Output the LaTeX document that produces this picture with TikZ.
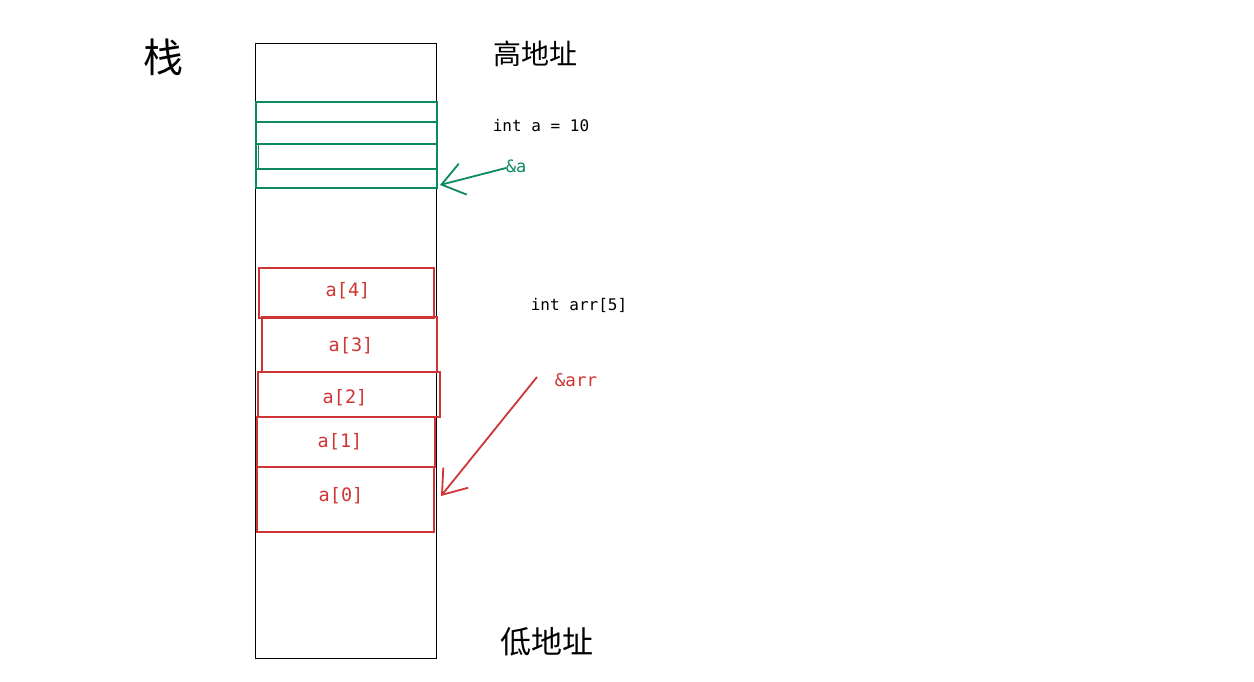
\documentclass[tikz,border=0pt]{standalone}
\usepackage{fontspec}
\setmainfont{Liberation Sans}
\setmonofont{DejaVu Sans Mono}
\newfontfamily\cjk{Noto Sans CJK SC}
\usetikzlibrary{arrows.meta}
\definecolor{grn}{HTML}{0C8A5E}
\definecolor{rd}{HTML}{D03535}
\tikzset{
  cell/.style={draw=rd, line width=1.6pt, minimum width=0pt, inner sep=0pt},
  gline/.style={draw=grn, line width=2.2pt},
  lbl/.style={font=\ttfamily\fontsize{16}{19}\selectfont, inner sep=0pt},
  rlbl/.style={font=\ttfamily\fontsize{18.5}{22}\selectfont, inner sep=0pt, text=rd},
  cjklbl/.style={inner sep=0pt},
  ptr/.style={line width=1.8pt, -{Straight Barb[length=22pt,width=32pt,line width=1.8pt]}},
}
\begin{document}
\begin{tikzpicture}[x=1pt,y=-1pt]
\useasboundingbox[fill=white] (0,0) rectangle (1254,682);
% stack frame
\node[draw=black, line width=1pt, minimum width=181pt, minimum height=615pt, inner sep=0pt, anchor=north west] (stack) at (255,43) {};
\node[cjklbl, font=\cjk\fontsize{40}{44}\selectfont] (zhan) at (163,57) {栈};
\node[cjklbl, font=\cjk\fontsize{28}{32}\selectfont] (hi) at (535,54) {高地址};
\node[cjklbl, font=\cjk\fontsize{31}{35}\selectfont] (lo) at (547,642) {低地址};
% green int a
\node[gline, minimum width=181pt, minimum height=86pt, inner sep=0pt, anchor=north west] (avar) at (255,101) {};
\coordinate (g1l) at (255,122); \coordinate (g1r) at (436,122);
\coordinate (g2l) at (256,144); \coordinate (g2r) at (436,144);
\coordinate (g3l) at (255,169); \coordinate (g3r) at (436,169);
\draw[gline] (g1l) -- (g1r);
\draw[gline] (g2l) -- (g2r);
\draw[gline] (g3l) -- (g3r);
\draw[draw=grn, line width=1pt] (258,144) -- (258,169);
\node[lbl] (inta) at (541,126) {int a = 10};
\node[font=\ttfamily\fontsize{17}{20}\selectfont, inner sep=0pt, text=grn] (amp) at (516,166) {\&a};
\coordinate (gs) at (506,168);
\coordinate (ge) at (440,185);
\draw[ptr, draw=grn] (gs) -- (ge);
% red array
\node[cell, minimum width=175pt, minimum height=50pt, anchor=north west] (a4) at (258,267) {};
\node[cell, minimum width=175pt, minimum height=55pt, anchor=north west] (a3) at (261,316) {};
\node[cell, minimum width=182pt, minimum height=45pt, anchor=north west] (a2) at (257,371) {};
\node[cell, minimum width=178pt, minimum height=50pt, anchor=north west] (a1) at (256,416) {};
\node[cell, minimum width=177pt, minimum height=65pt, anchor=north west] (a0) at (256,466) {};
\node[rlbl] at (348,291) {a[4]};
\node[rlbl] at (351,346) {a[3]};
\node[rlbl] at (345,398) {a[2]};
\node[rlbl] at (340,442) {a[1]};
\node[rlbl] at (341,496) {a[0]};
\node[lbl] (intarr) at (579,305) {int arr[5]};
\node[font=\ttfamily\fontsize{17.5}{21}\selectfont, inner sep=0pt, text=rd] (amparr) at (576,380) {\&arr};
\coordinate (rs) at (537,377);
\coordinate (re) at (441,496);
\draw[ptr, draw=rd] (rs) -- (re);
\end{tikzpicture}
\end{document}
